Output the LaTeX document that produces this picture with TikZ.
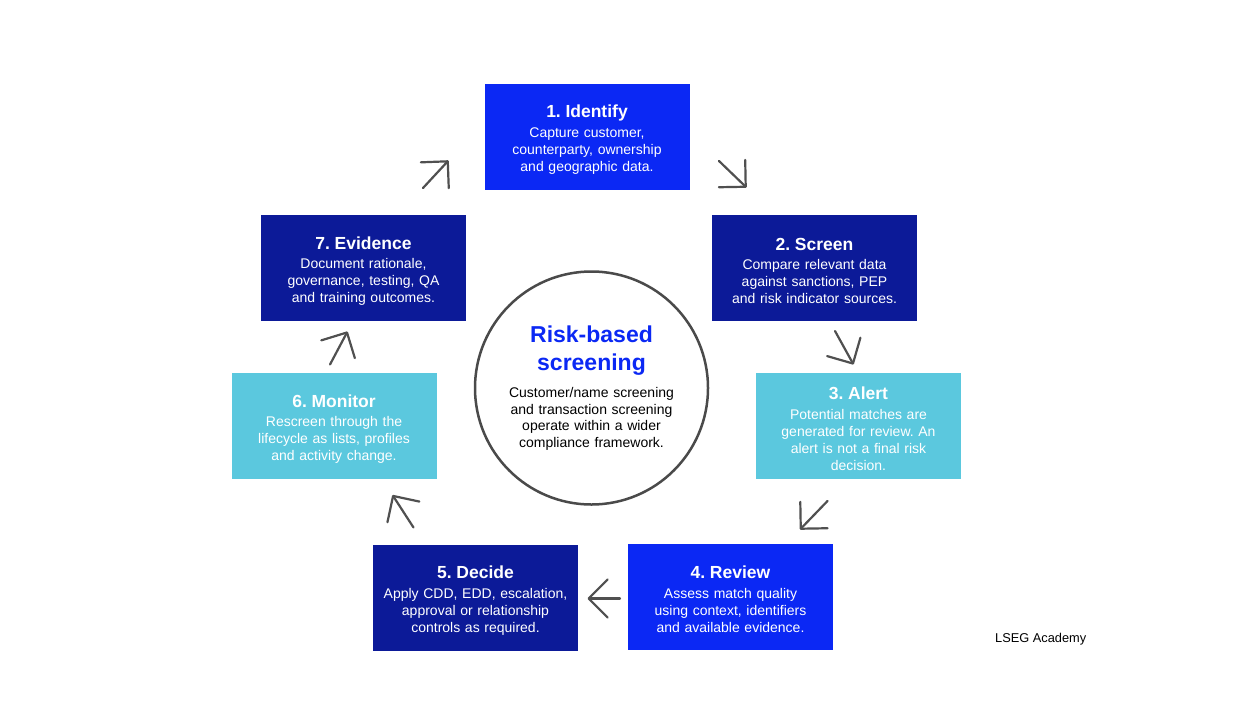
\documentclass[tikz,border=0pt]{standalone}
\usepackage{fontspec}
\setmainfont{Liberation Sans}
\usepackage{tikz}
\usetikzlibrary{arrows.meta}
\definecolor{lsegblue}{HTML}{0B28F4}
\definecolor{lsegnavy}{HTML}{0C1A98}
\definecolor{lsegcyan}{HTML}{5BC8DE}
\definecolor{arrowgrey}{HTML}{505050}
\definecolor{ringgrey}{HTML}{4A4A4A}
\newcommand{\steptitle}[1]{{\fontsize{17.5}{19}\selectfont\bfseries\rule{0pt}{18.5pt}#1\par}\vspace{2.6pt}}
\frenchspacing

\begin{document}
\begin{tikzpicture}[line cap=round,line join=round,x=1pt,y=-1pt,
  stepbox/.style={rectangle,minimum width=205pt,minimum height=106pt,text width=198pt,
    inner sep=0pt,align=center,text=white,font=\fontsize{14}{17}\selectfont},
  cyc/.style={color=arrowgrey,line width=2.2pt,-{Straight Barb[length=19pt,width=38pt,round]}}]
\fill[white] (0,0) rectangle (1248,702);
\useasboundingbox (0,0) rectangle (1248,702);
% the seven steps
\node[stepbox,fill=lsegblue] (identify) at (587,136.5) {\steptitle{1. Identify}Capture customer,\\counterparty, ownership\\and geographic data.};
\node[stepbox,fill=lsegnavy] (screen) at (814.5,268) {\steptitle{2. Screen}Compare relevant data\\against sanctions, PEP\\and risk indicator sources.};
\node[stepbox,fill=lsegcyan] (alert) at (858.5,426) {\steptitle{3. Alert}Potential matches are\\generated for review. An\\alert is not a final risk\\decision.};
\node[stepbox,fill=lsegblue] (review) at (730.5,596.5) {\steptitle{4. Review}Assess match quality\\using context, identifiers\\and available evidence.};
\node[stepbox,fill=lsegnavy] (decide) at (475.5,597.5) {\steptitle{5. Decide}Apply CDD, EDD, escalation,\\approval or relationship\\controls as required.};
\node[stepbox,fill=lsegcyan] (monitor) at (334,426) {\steptitle{6. Monitor}Rescreen through the\\lifecycle as lists, profiles\\and activity change.};
\node[stepbox,fill=lsegnavy] (evidence) at (363.5,268) {\steptitle{7. Evidence}Document rationale,\\governance, testing, QA\\and training outcomes.};
% centre
\node[circle,draw=ringgrey,line width=2.5pt,fill=white,minimum size=233pt,inner sep=0pt,
  text width=178pt,align=center,font=\fontsize{14}{16.6}\selectfont] (hub) at (591.5,388)
  {{\fontsize{23}{28}\selectfont\bfseries\color{lsegblue}Risk-based\\screening\par}\vspace{11pt}Customer/name screening\\and transaction screening\\operate within a wider\\compliance framework.};
% cycle arrows
\foreach \n/\tx/\ty/\hx/\hy in {1/423/188/448.5/160.5, 2/719/161/746.5/187.5, 3/835/331/853.5/364.5,
  4/827.5/501/800/529.5, 5/620/598.5/587.5/598.5, 6/413.5/527.5/392.5/495, 7/330/364.5/347.5/331.5}
{
  \coordinate (t\n) at (\tx,\ty);
  \coordinate (h\n) at (\hx,\hy);
  \draw[cyc] (t\n) -- (h\n);
}
\node[anchor=base west,inner sep=0pt,font=\fontsize{12.8}{15}\selectfont] (brand) at (995,642) {LSEG Academy};
\end{tikzpicture}
\end{document}
